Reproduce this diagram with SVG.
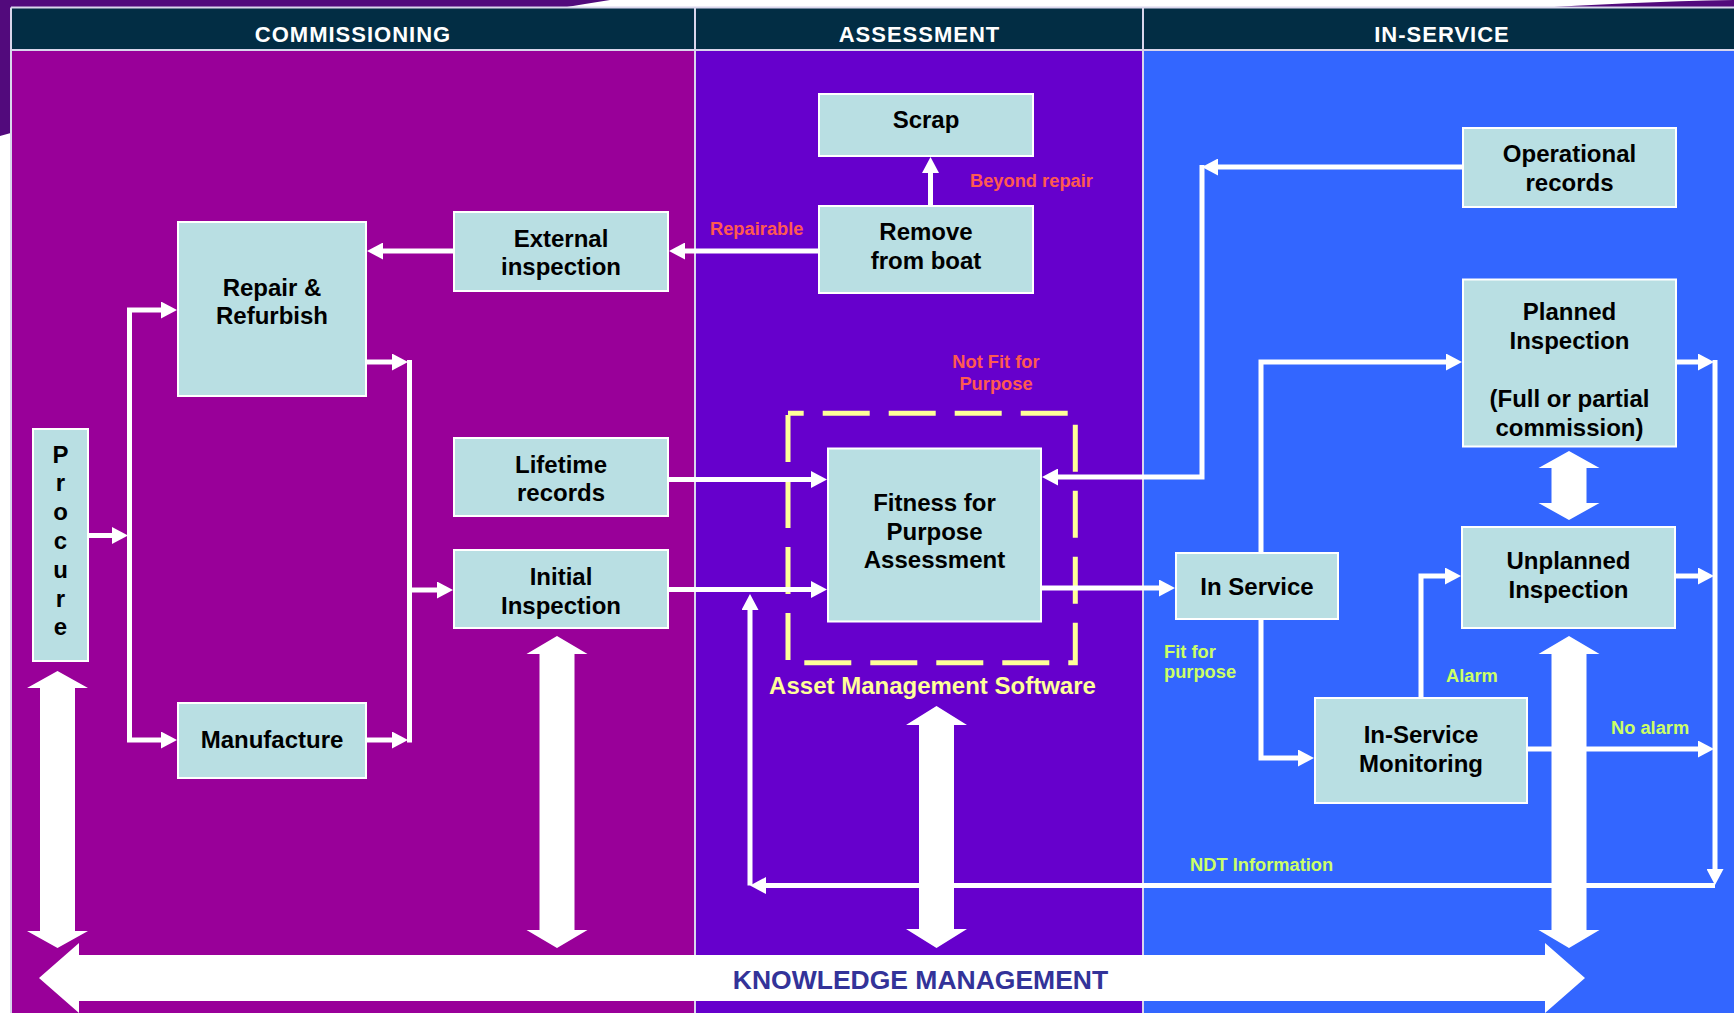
<svg xmlns="http://www.w3.org/2000/svg" width="1734" height="1013" viewBox="0 0 1734 1013">
  <defs>
    <style>
      .hdr { font: bold 22px "Liberation Sans", Arial, sans-serif; fill: #ffffff; text-anchor: middle; letter-spacing: 1px; }
      .node rect { fill: #B9DFE3; stroke: #ffffff; stroke-width: 2; }
      .node text { font: bold 24px "Liberation Sans", Arial, sans-serif; fill: #000000; text-anchor: middle; }
      .conn path { fill: none; stroke: #ffffff; stroke-width: 5; stroke-linejoin: miter; }
      .conn path.arr { marker-end: url(#ah); }
      .lbl { font: bold 18.3px "Liberation Sans", Arial, sans-serif; }
      .red { fill: #FF5A50; }
      .green { fill: #CCFF66; }
      .mid { text-anchor: middle; }
      .big { fill: #ffffff; }
      .sep { stroke: #D9D6EC; stroke-width: 2; fill: none; }
    </style>
    <marker id="ah" markerUnits="userSpaceOnUse" viewBox="0 0 16 17" markerWidth="16" markerHeight="17" refX="1" refY="8.5" orient="auto">
      <path d="M0 0 L16 8.5 L0 17 Z" fill="#ffffff"/>
    </marker>
  </defs>

  <!-- slide backdrop -->
  <rect width="1734" height="1013" fill="#ffffff"/>
  <path d="M0 0 H610 C 420 30, 200 80, 0 136 Z" fill="#520A7C"/>
  <path d="M1519 9 C 1590 5, 1660 1, 1734 0 V9 Z" fill="#520A7C"/>

  <!-- phase columns -->
  <rect x="11" y="50" width="684" height="963" fill="#990099"/>
  <rect x="695" y="50" width="448" height="963" fill="#6600CC"/>
  <rect x="1143" y="50" width="591" height="963" fill="#3366FF"/>

  <!-- header band -->
  <rect x="11" y="7.5" width="1723" height="42.5" fill="#022D44"/>
  <path class="sep" d="M11 7.5 H1734 M11 50 H1734 M11 7.5 V1013 M695 7.5 V1013 M1143 7.5 V1013"/>
  <text class="hdr" x="353" y="42">COMMISSIONING</text>
  <text class="hdr" x="919.5" y="42">ASSESSMENT</text>
  <text class="hdr" x="1442" y="42">IN-SERVICE</text>

  <!-- asset management software boundary -->
  <rect x="788" y="413.3" width="287.3" height="249.4" fill="none" stroke="#FFFF99" stroke-width="5" stroke-dasharray="47 19" stroke-dashoffset="31.3"/>

  <!-- connectors -->
  <g id="connectors" class="conn">
    <path class="arr" d="M930.5 206 V172"/>
    <path class="arr" d="M819 251 H684"/>
    <path class="arr" d="M454 251 H382"/>
    <path class="arr" d="M88 535.5 H113"/>
    <path class="arr" d="M129.5 536 V310 H162"/>
    <path class="arr" d="M129.5 536 V740 H162"/>
    <path class="arr" d="M366 362 H393"/>
    <path class="arr" d="M366 740 H393"/>
    <path d="M409.5 360 V742.5"/>
    <path class="arr" d="M409.5 590 H438"/>
    <path class="arr" d="M668 479.5 H812"/>
    <path class="arr" d="M668 589.5 H812"/>
    <path class="arr" d="M1041 588 H1160"/>
    <path class="arr" d="M1463 167 H1217"/>
    <path class="arr" d="M1202 165 V477 H1057"/>
    <path class="arr" d="M1261 553 V362 H1447"/>
    <path class="arr" d="M1261 619 V758 H1299"/>
    <path class="arr" d="M1421 698 V576 H1446"/>
    <path class="arr" d="M1676 362 H1699"/>
    <path class="arr" d="M1675 576 H1699"/>
    <path class="arr" d="M1527 749 H1699"/>
    <path class="arr" d="M1715 360 V870"/>
    <path class="arr" d="M1715 885.5 H765"/>
    <path class="arr" d="M750 885.5 V609"/>
  </g>

  <!-- process nodes -->
  <g id="scrap" class="node">
    <rect x="819" y="94" width="214" height="62"/>
    <text x="926" y="128">Scrap</text>
  </g>
  <g id="remove-from-boat" class="node">
    <rect x="819" y="206" width="214" height="87"/>
    <text x="926" y="240">Remove</text>
    <text x="926" y="269">from boat</text>
  </g>
  <g id="external-inspection" class="node">
    <rect x="454" y="212" width="214" height="79"/>
    <text x="561" y="246.5">External</text>
    <text x="561" y="275">inspection</text>
  </g>
  <g id="repair-refurbish" class="node">
    <rect x="178" y="222" width="188" height="174"/>
    <text x="272" y="295.5">Repair &amp;</text>
    <text x="272" y="324">Refurbish</text>
  </g>
  <g id="procure" class="node">
    <rect x="33" y="429" width="55" height="232"/>
    <text x="60.5" y="462.5">P</text>
    <text x="60.5" y="491.3">r</text>
    <text x="60.5" y="520">o</text>
    <text x="60.5" y="549">c</text>
    <text x="60.5" y="577.7">u</text>
    <text x="60.5" y="606.5">r</text>
    <text x="60.5" y="635.3">e</text>
  </g>
  <g id="lifetime-records" class="node">
    <rect x="454" y="438" width="214" height="78"/>
    <text x="561" y="473">Lifetime</text>
    <text x="561" y="501">records</text>
  </g>
  <g id="initial-inspection" class="node">
    <rect x="454" y="550" width="214" height="78"/>
    <text x="561" y="585">Initial</text>
    <text x="561" y="614">Inspection</text>
  </g>
  <g id="manufacture" class="node">
    <rect x="178" y="703" width="188" height="75"/>
    <text x="272" y="748">Manufacture</text>
  </g>
  <g id="fitness-for-purpose" class="node">
    <rect x="828" y="448.5" width="213" height="173"/>
    <text x="934.5" y="511">Fitness for</text>
    <text x="934.5" y="539.5">Purpose</text>
    <text x="934.5" y="568">Assessment</text>
  </g>
  <g id="in-service" class="node">
    <rect x="1176" y="553" width="162" height="66"/>
    <text x="1257" y="595">In Service</text>
  </g>
  <g id="operational-records" class="node">
    <rect x="1463" y="128" width="213" height="79"/>
    <text x="1569.5" y="162">Operational</text>
    <text x="1569.5" y="191">records</text>
  </g>
  <g id="planned-inspection" class="node">
    <rect x="1463" y="279.5" width="213" height="167"/>
    <text x="1569.5" y="320">Planned</text>
    <text x="1569.5" y="349">Inspection</text>
    <text x="1569.5" y="407">(Full or partial</text>
    <text x="1569.5" y="436">commission)</text>
  </g>
  <g id="unplanned-inspection" class="node">
    <rect x="1462" y="527" width="213" height="101"/>
    <text x="1568.5" y="568.5">Unplanned</text>
    <text x="1568.5" y="597.5">Inspection</text>
  </g>
  <g id="in-service-monitoring" class="node">
    <rect x="1315" y="698" width="212" height="105"/>
    <text x="1421" y="742.5">In-Service</text>
    <text x="1421" y="771.5">Monitoring</text>
  </g>

  <!-- knowledge exchange arrows -->
  <g id="knowledge-links" class="big">
    <polygon points="57.5,671 88,688 75,688 75,931 88,931 57.5,948 27,931 40,931 40,688 27,688"/>
    <polygon points="557,636 587.5,654 574.5,654 574.5,930 587.5,930 557,948 526.5,930 539.5,930 539.5,654 526.5,654"/>
    <polygon points="936.5,706 967,725 954,725 954,929 967,929 936.5,948 906,929 919,929 919,725 906,725"/>
    <polygon points="1569,636 1599.5,654 1586.5,654 1586.5,930 1599.5,930 1569,948 1538.5,930 1551.5,930 1551.5,654 1538.5,654"/>
    <polygon points="1569,451 1599.5,468 1586.5,468 1586.5,503 1599.5,503 1569,520 1538.5,503 1551.5,503 1551.5,468 1538.5,468"/>
  </g>
  <g id="knowledge-management">
    <polygon class="big" points="39,978 79,943 79,955 1545,955 1545,943 1585,978 1545,1013 1545,1001 79,1001 79,1013"/>
    <text x="920.5" y="989" style="font: bold 26.5px 'Liberation Sans', Arial, sans-serif; fill: #333399; text-anchor: middle;">KNOWLEDGE MANAGEMENT</text>
  </g>

  <!-- connector labels -->
  <g id="labels">
    <text class="lbl red" x="970" y="186.5">Beyond repair</text>
    <text class="lbl red" x="710" y="235">Repairable</text>
    <text class="lbl red mid" x="996" y="368">Not Fit for</text>
    <text class="lbl red mid" x="996" y="390">Purpose</text>
    <text x="932.5" y="694" style="font: bold 24px 'Liberation Sans', Arial, sans-serif; fill: #FFFF99; text-anchor: middle;">Asset Management Software</text>
    <text class="lbl green" x="1164" y="657.5">Fit for</text>
    <text class="lbl green" x="1164" y="678">purpose</text>
    <text class="lbl green" x="1446" y="682">Alarm</text>
    <text class="lbl green" x="1611" y="734">No alarm</text>
    <text class="lbl green" x="1190" y="871">NDT Information</text>
  </g>
</svg>
